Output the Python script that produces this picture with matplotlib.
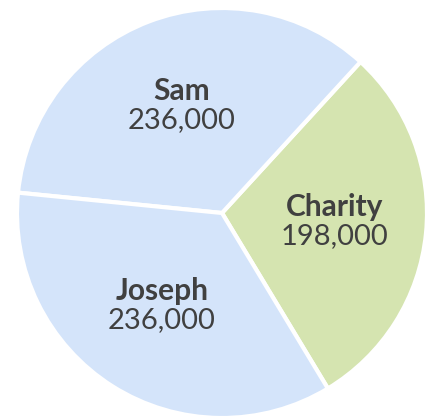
import matplotlib
matplotlib.use("Agg")
import matplotlib.pyplot as plt
import numpy as np

# share of the estate per person
names = ["Charity", "Sam", "Joseph"]
amounts = [198000, 236000, 236000]
colors = ["#d5e4b0", "#d4e4fa", "#d4e4fa"]

total = sum(amounts)
charity_span = 360.0 * amounts[0] / total
start = -5.7 - charity_span / 2  # keep the green slice centred just below the horizontal

fig = plt.figure(figsize=(4.35, 4.19), dpi=100)
ax = fig.add_axes([0, 0, 1, 1])

wedges, _ = ax.pie(amounts, colors=colors, startangle=start, counterclock=True,
                   wedgeprops=dict(edgecolor="white", linewidth=3))

# names and amounts inside each slice
for w, name, amt in zip(wedges, names, amounts):
    mid = np.deg2rad((w.theta1 + w.theta2) / 2)
    r = 0.55
    x, y = r * np.cos(mid), r * np.sin(mid)
    ax.text(x, y + 0.015, name, ha="center", va="bottom", fontsize=21.5,
            fontweight="bold", family="Lato", color="#404040")
    ax.text(x, y + 0.005, f"{amt:,}", ha="center", va="top", fontsize=21,
            fontweight="normal", family="Lato", color="#404040")

ax.set_xlim(-222 / 205, 213 / 205)
ax.set_ylim(-206 / 205, 213 / 205)
ax.set_aspect("auto")
ax.axis("off")

fig.savefig("out.png", dpi=100, facecolor="white")
